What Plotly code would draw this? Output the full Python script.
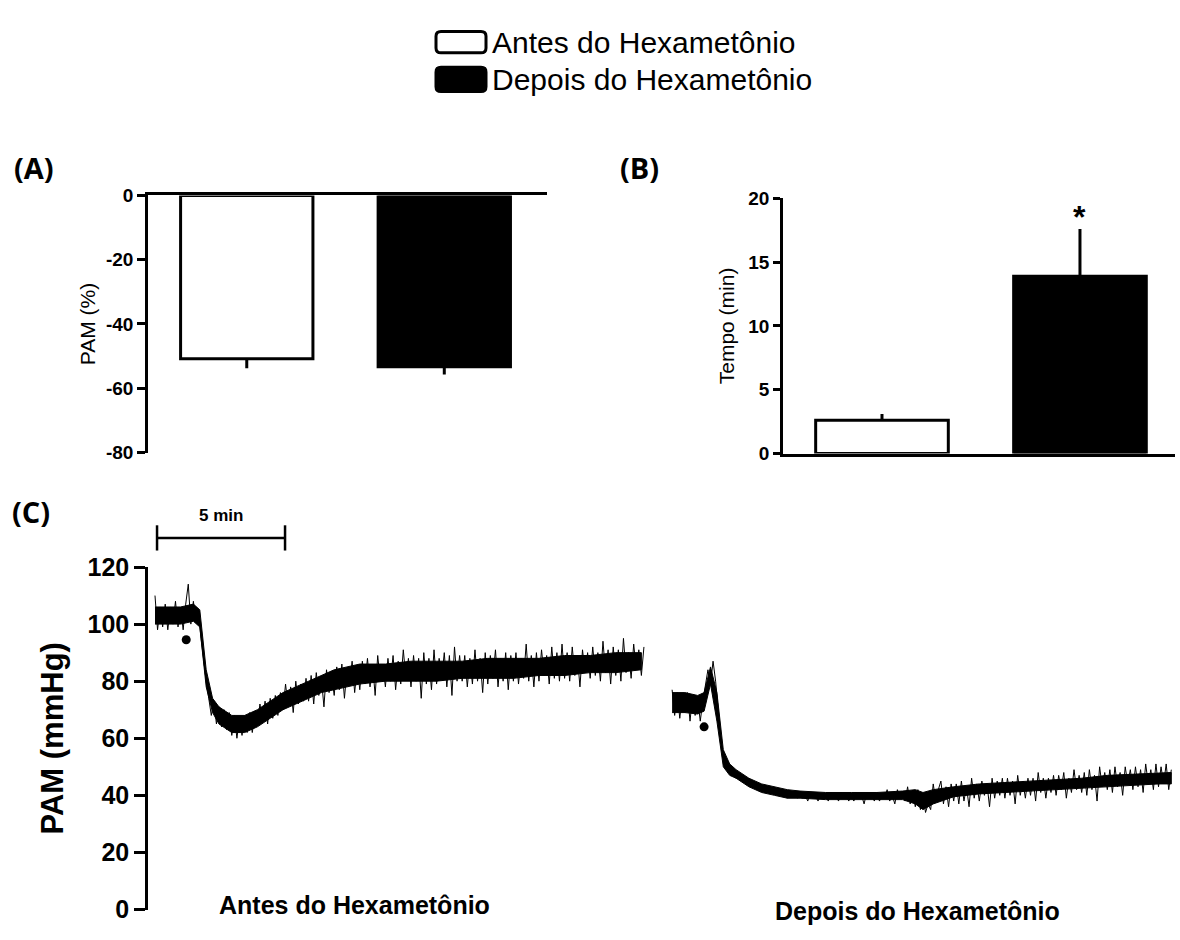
import numpy as np
import plotly.graph_objects as go

# ---------------------------------------------------------------- data
groups = ["Antes do Hexametônio", "Depois do Hexametônio"]

# (A) fall in mean arterial pressure, % (mean and SEM)
pam_pct = [-50.8, -53.3]
pam_pct_sem = [3.0, 2.4]
pam_pct_ticks = [0, -20, -40, -60, -80]

# (B) duration of the hypotensive response, min (mean and SEM)
tempo_min = [2.6, 13.9]
tempo_sem = [0.5, 3.7]
tempo_ticks = [0, 5, 10, 15, 20]
sig_mark = ["", "*"]

# (C) representative recordings of PAM (mmHg), sampled every 0.1 min
sample_step_min = 0.1
antes_start_min = 0.0
depois_start_min = 20.2
pam_mmhg_ticks = [0, 20, 40, 60, 80, 100, 120]

pam_antes = [
    110, 98, 106, 99, 107, 98, 106, 100, 108, 99,
    106, 98, 107, 114, 100, 108, 101, 104, 95, 87,
    80, 74, 68, 73, 65, 71, 64, 70, 63, 69,
    61, 68, 60, 67, 61, 68, 62, 69, 62, 68,
    65, 72, 66, 73, 65, 74, 67, 75, 68, 76,
    70, 79, 71, 78, 69, 80, 72, 79, 73, 81,
    73, 82, 72, 83, 75, 81, 71, 84, 76, 82,
    75, 85, 77, 86, 74, 84, 79, 87, 76, 85,
    77, 87, 79, 88, 78, 86, 75, 89, 80, 86,
    78, 88, 80, 89, 77, 87, 79, 91, 81, 88,
    78, 89, 80, 88, 74, 90, 79, 88, 77, 91,
    79, 88, 81, 90, 78, 89, 75, 92, 80, 89,
    80, 89, 78, 88, 79, 91, 80, 88, 76, 90,
    79, 89, 81, 91, 78, 88, 80, 90, 77, 89,
    80, 90, 79, 88, 81, 93, 80, 89, 78, 90,
    80, 91, 82, 89, 79, 92, 81, 90, 80, 93,
    81, 90, 80, 92, 82, 89, 78, 91, 83, 90,
    81, 92, 82, 90, 80, 94, 83, 91, 79, 92,
    82, 91, 80, 95, 83, 90, 81, 93, 84, 91,
    82, 92,
]

pam_depois = [
    77, 68, 76, 67, 75, 69, 76, 66, 75, 68,
    74, 66, 73, 78, 84, 79, 87, 80, 70, 60,
    54, 49, 51, 47, 49, 46, 48, 45, 47, 44,
    46, 43, 45, 42, 44, 42, 43, 41, 43, 41,
    42, 40, 42, 40, 41, 39, 41, 40, 41, 39,
    41, 39, 40, 38, 41, 39, 40, 38, 40, 39,
    40, 38, 41, 39, 40, 38, 41, 39, 40, 38,
    40, 38, 41, 39, 40, 37, 41, 39, 40, 38,
    41, 38, 40, 39, 42, 38, 40, 37, 42, 39,
    41, 38, 43, 37, 41, 36, 42, 35, 40, 34,
    37, 35, 44, 38, 42, 45, 37, 43, 36, 44,
    38, 44, 37, 45, 38, 43, 36, 46, 39, 44,
    38, 45, 40, 44, 36, 46, 39, 45, 40, 46,
    39, 46, 40, 45, 37, 47, 40, 45, 39, 46,
    40, 46, 38, 48, 41, 46, 39, 46, 41, 47,
    40, 47, 42, 48, 39, 46, 41, 49, 42, 47,
    41, 48, 40, 49, 42, 47, 38, 50, 43, 48,
    42, 49, 41, 50, 43, 48, 40, 50, 44, 49,
    42, 50, 43, 49, 41, 51, 44, 49, 42, 51,
    43, 50, 44, 51, 42, 49,
]

# dense core of each recording: time from start (min), lower and upper PAM
core_antes_t = [0, 0.5, 1.0, 1.5, 1.75, 2.0, 2.25, 2.5, 3.0, 3.5, 4.0, 4.5,
                5.0, 5.5, 6.0, 6.5, 7.0, 7.5, 8.0, 9.0, 10.0, 11.0, 12.0,
                13.0, 14.0, 15.0, 16.0, 17.0, 18.0, 19.0]
core_antes_lo = [100, 100, 100, 101, 99, 78, 69, 65, 62, 62, 64, 67,
                 70, 72, 74, 76, 77, 78, 79, 80, 80, 80, 81,
                 81, 81, 82, 82, 83, 83, 84]
core_antes_hi = [106, 106, 106, 107, 105, 84, 74, 71, 68, 68, 70, 73,
                 76, 78, 80, 82, 84, 85, 86, 86, 87, 87, 87,
                 88, 88, 88, 89, 89, 90, 90]

core_depois_t = [0, 0.5, 1.0, 1.25, 1.5, 1.75, 2.0, 2.25, 2.5, 3.0, 3.5,
                 4.0, 4.5, 5.0, 6.0, 7.0, 8.0, 9.0, 9.5, 9.8, 10.2, 11.0,
                 12.0, 13.0, 14.0, 15.0, 16.0, 17.0, 18.0, 19.0, 19.5]
core_depois_lo = [69, 69, 68.5, 69.5, 79, 66, 50, 47, 46, 43, 41,
                  40, 39, 39, 38.5, 38.5, 38.5, 38.5, 37, 35, 37, 39.5,
                  40.5, 41, 41.5, 42, 42.5, 43, 43.5, 44, 44]
core_depois_hi = [76, 76, 75, 76, 85, 76, 56, 51, 49, 46, 44,
                  43, 42, 41.5, 41, 41, 41, 41.5, 42, 41, 42, 43,
                  44, 44.5, 45, 45.5, 46, 47, 47.5, 48, 48]

# drug-injection markers (time in min, PAM in mmHg)
injection_t = [1.22, 21.45]
injection_pam = [94.5, 64.0]

scale_bar_min = 5.0
scale_bar_start = 0.08

# ---------------------------------------------------------------- layout helpers
W, H = 1180, 940
FONT = "Liberation Sans"
LABEL_FONT = "Open Sans"
BLACK = "#000000"


def px(x):
    return x / W


def py(y):
    return 1 - y / H


t_antes = antes_start_min + sample_step_min * np.arange(len(pam_antes))
t_depois = depois_start_min + sample_step_min * np.arange(len(pam_depois))

fig = go.Figure()

# (A) bars
fig.add_trace(go.Bar(
    x=groups, y=pam_pct, xaxis="x", yaxis="y", width=0.67,
    marker=dict(color=["#ffffff", BLACK], line=dict(color=BLACK, width=3)),
    error_y=dict(type="data", symmetric=False, array=[0, 0],
                 arrayminus=pam_pct_sem, width=0, thickness=3, color=BLACK),
    showlegend=False, hoverinfo="skip",
))

# (B) bars
fig.add_trace(go.Bar(
    x=groups, y=tempo_min, xaxis="x2", yaxis="y2", width=0.67,
    marker=dict(color=["#ffffff", BLACK], line=dict(color=BLACK, width=3)),
    error_y=dict(type="data", symmetric=False, array=tempo_sem,
                 arrayminus=[0, 0], width=0, thickness=3, color=BLACK),
    showlegend=False, hoverinfo="skip",
))

# (C) pressure recordings: dense core band plus the sampled trace
for start, ct, lo, hi in [(antes_start_min, core_antes_t, core_antes_lo, core_antes_hi),
                          (depois_start_min, core_depois_t, core_depois_lo, core_depois_hi)]:
    tt = [start + v for v in ct]
    fig.add_trace(go.Scatter(
        x=tt + tt[::-1], y=hi + lo[::-1], xaxis="x3", yaxis="y3",
        mode="lines", fill="toself", fillcolor=BLACK,
        line=dict(color=BLACK, width=1),
        showlegend=False, hoverinfo="skip",
    ))
for t, v in [(t_antes, pam_antes), (t_depois, pam_depois)]:
    fig.add_trace(go.Scatter(
        x=t, y=v, xaxis="x3", yaxis="y3", mode="lines",
        line=dict(color=BLACK, width=1.0),
        showlegend=False, hoverinfo="skip",
    ))
fig.add_trace(go.Scatter(
    x=injection_t, y=injection_pam, xaxis="x3", yaxis="y3", mode="markers",
    marker=dict(color=BLACK, size=9), showlegend=False, hoverinfo="skip",
))

tick_font_small = dict(family=FONT, size=19, color=BLACK, weight="bold")
tick_font_big = dict(family=FONT, size=25, color=BLACK, weight="bold")


def tick_text(vals):
    # plain hyphen for negatives
    return [f"{v:d}" for v in vals]


fig.update_layout(
    width=W, height=H,
    margin=dict(l=0, r=0, t=0, b=0),
    paper_bgcolor="white", plot_bgcolor="white",
    # panel A
    xaxis=dict(domain=[px(148), px(547)], range=[-0.5, 1.52], anchor="y",
               side="top", showline=True, linecolor=BLACK, linewidth=2.5,
               showticklabels=False, ticks="", showgrid=False, zeroline=False),
    yaxis=dict(domain=[py(452), py(187)], range=[-80, 0], anchor="x",
               tickvals=pam_pct_ticks, ticktext=tick_text(pam_pct_ticks),
               ticks="outside", ticklen=8,
               tickwidth=2.5, tickcolor=BLACK, showline=True, linecolor=BLACK,
               linewidth=2.5, showgrid=False, zeroline=False,
               tickfont=tick_font_small,
               title=dict(text="PAM (%)", standoff=5,
                          font=dict(family=FONT, size=21, color=BLACK))),
    # panel B
    xaxis2=dict(domain=[px(783), px(1175)], range=[-0.5, 1.48], anchor="y2",
                showline=True, linecolor=BLACK, linewidth=2.5,
                showticklabels=False, ticks="", showgrid=False, zeroline=False),
    yaxis2=dict(domain=[py(453), py(190)], range=[0, 20], anchor="x2",
                tickvals=tempo_ticks, ticktext=tick_text(tempo_ticks),
                ticks="outside", ticklen=7,
                tickwidth=2.5, tickcolor=BLACK, showline=True, linecolor=BLACK,
                linewidth=2.5, showgrid=False, zeroline=False,
                tickfont=tick_font_small,
                title=dict(text="Tempo (min)", standoff=8,
                           font=dict(family=FONT, size=21, color=BLACK))),
    # panel C
    xaxis3=dict(domain=[px(148), 1.0], range=[-0.273, 40.04], anchor="y3",
                visible=False, showgrid=False, zeroline=False),
    yaxis3=dict(domain=[py(923), py(570)], range=[0, 120], anchor="x3",
                tickvals=pam_mmhg_ticks, ticktext=tick_text(pam_mmhg_ticks),
                ticks="outside",
                ticklen=11, tickwidth=2.5, tickcolor=BLACK, showline=True,
                linecolor=BLACK, linewidth=2.5, showgrid=False, zeroline=False,
                tickfont=tick_font_big,
                title=dict(text="PAM (mmHg)", standoff=15,
                           font=dict(family=FONT, size=31, color=BLACK,
                                     weight="bold"))),
)

shapes = []
annotations = []

# time scale bar above panel C
bar_end = scale_bar_start + scale_bar_min
shapes.append(dict(type="line", xref="x3", yref="paper",
                   x0=scale_bar_start, x1=bar_end, y0=py(540), y1=py(540),
                   line=dict(color=BLACK, width=2.5)))
for xe in (scale_bar_start, bar_end):
    shapes.append(dict(type="line", xref="x3", yref="paper",
                       x0=xe, x1=xe, y0=py(527), y1=py(553),
                       line=dict(color=BLACK, width=2.5)))
annotations.append(dict(xref="x3", yref="paper",
                        x=(scale_bar_start + bar_end) / 2, y=py(517),
                        xanchor="center", yanchor="middle",
                        text=f"{scale_bar_min:g} min", showarrow=False,
                        font=dict(family=FONT, size=17, color=BLACK, weight="bold")))

# significance mark above the error bar in panel B
for g, v, e, s in zip(groups, tempo_min, tempo_sem, sig_mark):
    if s:
        annotations.append(dict(xref="x2", yref="y2", x=g, y=v + e, text=s,
                                showarrow=False, xanchor="center",
                                yanchor="bottom", yshift=-8,
                                font=dict(family=FONT, size=32, color=BLACK,
                                          weight="bold")))

# panel letters
for letter, x, y in [("(A)", 12, 158), ("(B)", 618, 158), ("(C)", 10, 513)]:
    annotations.append(dict(xref="paper", yref="paper", x=px(x), y=py(y),
                            xanchor="left", yanchor="middle", text=letter,
                            showarrow=False,
                            font=dict(family=LABEL_FONT, size=29, color=BLACK,
                                      weight="bold")))

# recording captions
for text, x, y in [(groups[0], 355, 918), (groups[1], 918, 925)]:
    annotations.append(dict(xref="paper", yref="paper", x=px(x), y=py(y),
                            xanchor="center", yanchor="middle",
                            text=text, showarrow=False,
                            font=dict(family=FONT, size=25, color=BLACK,
                                      weight="bold")))


def rounded_box(x0, y0, x1, y1, r):
    """Rounded rectangle path in paper units from pixel corners."""
    rx, ry = r / W, r / H
    X0, X1 = px(x0), px(x1)
    Y0, Y1 = py(y1), py(y0)
    return (f"M {X0 + rx},{Y0} L {X1 - rx},{Y0} Q {X1},{Y0} {X1},{Y0 + ry} "
            f"L {X1},{Y1 - ry} Q {X1},{Y1} {X1 - rx},{Y1} "
            f"L {X0 + rx},{Y1} Q {X0},{Y1} {X0},{Y1 - ry} "
            f"L {X0},{Y0 + ry} Q {X0},{Y0} {X0 + rx},{Y0} Z")


# legend
legend_rows = [(groups[0], "#ffffff", 18, 40, 29), (groups[1], BLACK, 55, 80, 68)]
for name, fill, ya, yb, yc in legend_rows:
    shapes.append(dict(type="path", xref="paper", yref="paper",
                       path=rounded_box(436, ya, 486, yb, 5),
                       fillcolor=fill, line=dict(color=BLACK, width=3)))
    annotations.append(dict(xref="paper", yref="paper", x=px(490), y=py(yc),
                            xanchor="left", yanchor="middle", text=name,
                            showarrow=False,
                            font=dict(family=FONT, size=30, color=BLACK)))

fig.update_layout(shapes=shapes, annotations=annotations)

fig.write_html("out.html")
